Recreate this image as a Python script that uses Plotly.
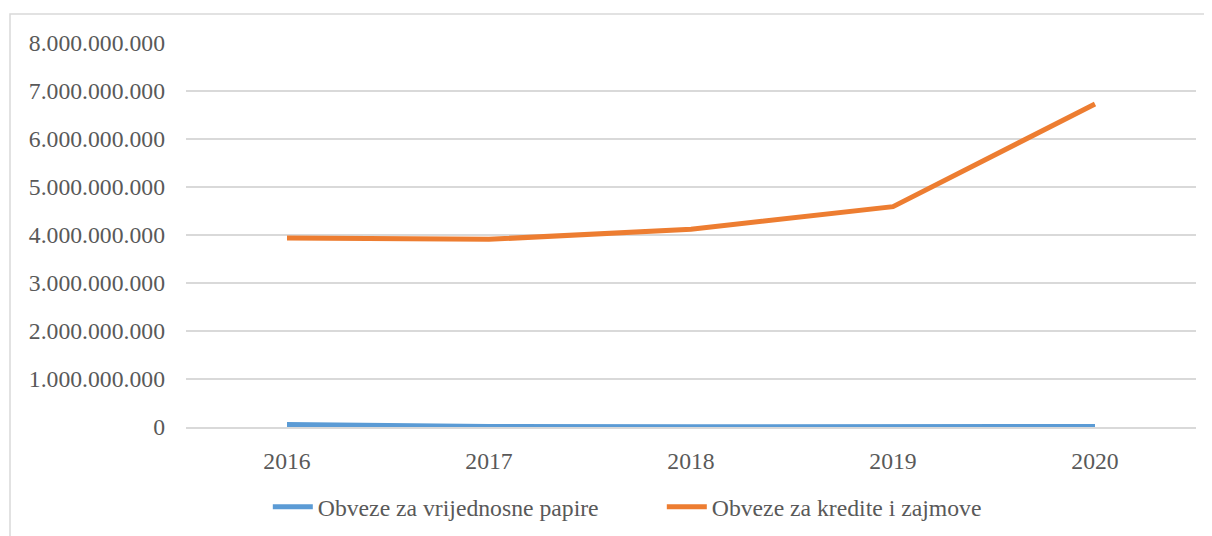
import plotly.graph_objects as go

years = ["2016", "2017", "2018", "2019", "2020"]
vrijednosni_papiri = [50000000, 10000000, 5000000, 10000000, 10000000]
krediti_zajmovi = [3940000000, 3910000000, 4120000000, 4590000000, 6730000000]
y_ticks = [0, 1e9, 2e9, 3e9, 4e9, 5e9, 6e9, 7e9, 8e9]

font = dict(family="Times New Roman", size=23.7, color="#595959")

# page body has an 8px margin, so the figure is laid out in 1204x528
fig = go.Figure()
fig.add_trace(go.Scatter(x=years, y=vrijednosni_papiri, mode="lines",
                         name="Obveze za vrijednosne papire",
                         line=dict(color="#5B9BD5", width=5)))
fig.add_trace(go.Scatter(x=years, y=krediti_zajmovi, mode="lines",
                         name="Obveze za kredite i zajmove",
                         line=dict(color="#ED7D31", width=5)))

fig.update_layout(
    width=1204, height=528,
    margin=dict(l=178, r=16, t=35, b=109, autoexpand=False),
    paper_bgcolor="white", plot_bgcolor="white",
    font=font,
    separators=",.",
    showlegend=True,
    legend=dict(orientation="h", x=0.081, xanchor="left", y=-0.208, yanchor="middle",
                font=font, itemwidth=40, entrywidth=339, entrywidthmode="pixels"),
    xaxis=dict(type="category", range=[-0.5, 4.5], showgrid=False,
               showline=True, linecolor="#D9D9D9", linewidth=1.5,
               ticks="", ticklabelstandoff=12),
    yaxis=dict(range=[0, 8e9], tickvals=y_ticks, tickformat=",d",
               showgrid=True, gridcolor="#D9D9D9", gridwidth=1.5,
               zeroline=False, showline=False, ticks="", ticklabelstandoff=20),
    shapes=[dict(type="rect", xref="paper", yref="paper",
                 x0=(2 - 178) / 1010, x1=1.2, y0=-0.6, y1=1 + (35 - 6) / 384,
                 line=dict(color="#D9D9D9", width=1.5), layer="below")],
)

fig.write_html("out.html")
